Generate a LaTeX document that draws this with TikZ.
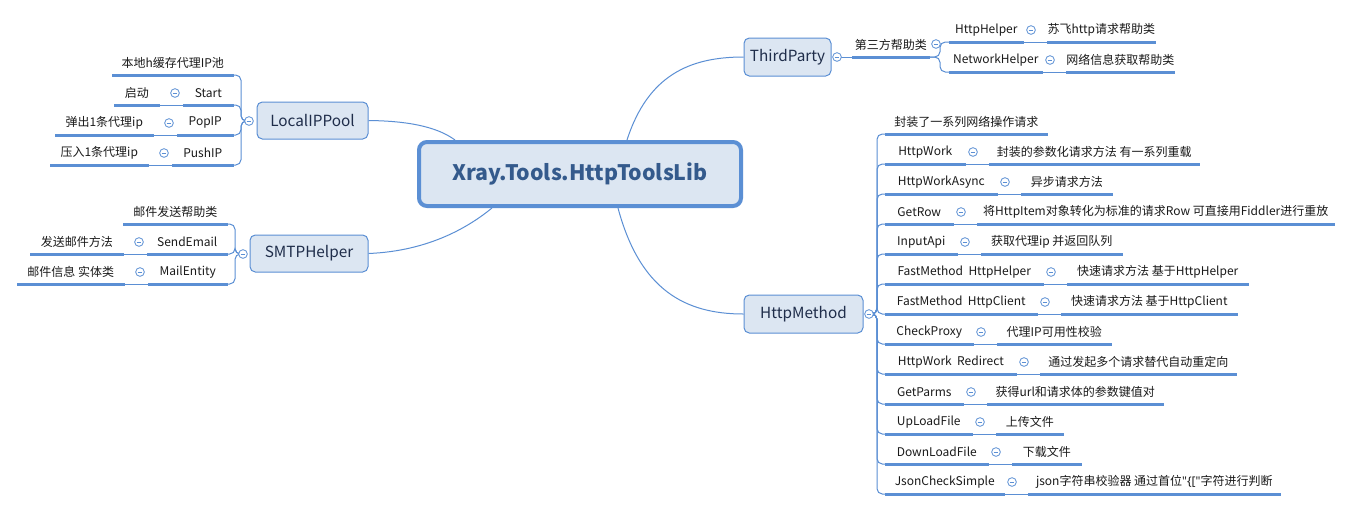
\documentclass[tikz,border=0pt]{standalone}
\usepackage{fontspec}
\setmainfont{Noto Sans CJK SC}
\newfontfamily\latq{Noto Sans}
\usetikzlibrary{backgrounds}
\definecolor{lc}{HTML}{5B8FD4}
\definecolor{nf}{HTML}{DCE6F2}
\definecolor{ct}{HTML}{345A8C}
\definecolor{tt}{HTML}{1F2D4A}
\definecolor{lt}{HTML}{1A1A1A}
\tikzset{
  conn/.style={draw=lc, line width=0.75pt},
  ul/.style={draw=lc, line width=2.25pt},
  leaf/.style={anchor=south west, inner sep=0pt, minimum height=18pt, font=\fontsize{9}{11}\selectfont, text=lt},
  topic/.style={draw=lc, fill=nf, line width=0.75pt, rounded corners=4pt, inner sep=0pt, font=\fontsize{11.5}{13}\selectfont, text=tt},
  colb/.style={circle, draw=lc, fill=white, line width=0.6pt, minimum size=6.5pt, inner sep=0pt,
    path picture={\draw[lc, line width=0.5pt] ([xshift=-1.8pt]path picture bounding box.center) -- ([xshift=1.8pt]path picture bounding box.center);}},
  brk/.style={conn, rounded corners=4pt}
}
\newcommand\myleaf[5]{%
  \node[leaf, minimum width={(#4)*0.75pt}] (#1) at ({#2},{#3}) {#5};
  \draw[ul] (#1.south west) -- (#1.south east);}
\newcommand\rrow[7]{%
  \myleaf{#1k}{#2}{#3}{#4}{#6}
  \node[colb] (#1c) at ({#2+#4+8},{#3-12}) {};
  \myleaf{#1v}{#2+#4+24}{#3}{#5}{#7}
  \begin{pgfonlayer}{background}\draw[conn] (#1k.south east) -- (#1v.south west);\end{pgfonlayer}}
\newcommand\lrow[7]{%
  \myleaf{#1k}{#2-#4}{#3}{#4}{#6}
  \node[colb] (#1c) at ({#2-#4-8},{#3-12}) {};
  \myleaf{#1v}{#2-#4-24-#5}{#3}{#5}{#7}
  \begin{pgfonlayer}{background}\draw[conn] (#1v.south east) -- (#1k.south west);\end{pgfonlayer}}
\begin{document}
\begin{tikzpicture}[x=0.75pt, y=-0.75pt]
\begin{pgfonlayer}{background}
\path[fill=white] (0,0) rectangle (1353,512);
\end{pgfonlayer}
\useasboundingbox (0,0) rectangle (1353,512);

% root
\node[draw=lc, fill=nf, line width=3pt, rounded corners=6pt, minimum width=322*0.75pt, minimum height=64*0.75pt,
  font=\fontsize{16}{18}\selectfont\bfseries, text=ct] (root) at (580,174) {Xray.Tools.HttpToolsLib};

% ---------- LocalIPPool ----------
\node[topic, minimum width=111*0.75pt, minimum height=37*0.75pt] (lip) at (312.5,120.5) {LocalIPPool};
\node[colb] (lipc) at (249,121) {};
\coordinate (lipj) at (241,121);
\myleaf{l0}{112}{75}{121}{本地h缓存代理IP池}
\lrow{l1}{233}{105}{50}{45}{Start}{启动}
\lrow{l2}{233}{135}{56}{98}{PopIP}{弹出1条代理ip}
\lrow{l3}{233}{165}{61}{98}{PushIP}{压入1条代理ip}

% ---------- SMTPHelper ----------
\node[topic, minimum width=118*0.75pt, minimum height=37*0.75pt] (smtp) at (309,253.5) {SMTPHelper};
\node[colb] (smtpc) at (243,254) {};
\coordinate (smtpj) at (235,254);
\myleaf{s0}{123}{224}{104}{邮件发送帮助类}
\lrow{s1}{227}{254}{80}{93}{SendEmail}{发送邮件方法}
\lrow{s2}{227}{284}{79}{107}{MailEntity}{邮件信息 实体类}

% ---------- ThirdParty ----------
\node[topic, minimum width=87*0.75pt, minimum height=38*0.75pt] (tp) at (787.5,57) {ThirdParty};
\node[colb] (tpc) at (837,57) {};
\myleaf{t0}{852}{57}{77}{第三方帮助类}
\node[colb] (t0c) at (936,44) {};
\coordinate (tpj) at (940,57);
\rrow{t1}{949}{42}{74}{108}{HttpHelper}{苏飞http请求帮助类}
\rrow{t2}{949}{72}{93}{108}{NetworkHelper}{网络信息获取帮助类}

% ---------- HttpMethod ----------
\node[topic, minimum width=119*0.75pt, minimum height=38*0.75pt] (hm) at (803.5,314) {HttpMethod};
\node[colb] (hmc) at (869,314) {};
\coordinate (hmj) at (877,314);
\myleaf{h0k}{885}{134}{162}{封装了一系列网络操作请求}
\rrow{h1}{885}{164}{80}{210}{HttpWork}{封装的参数化请求方法 有一系列重载}
\rrow{h2}{885}{194}{112}{91}{HttpWorkAsync}{异步请求方法}
\rrow{h3}{885}{224}{68}{357}{GetRow}{将HttpItem对象转化为标准的请求Row 可直接用Fiddler进行重放}
\rrow{h4}{885}{254}{72}{141}{InputApi}{获取代理ip 并返回队列}
\rrow{h5}{885}{284}{158}{181}{FastMethod~ HttpHelper}{快速请求方法 基于HttpHelper}
\rrow{h6}{885}{314}{152}{176}{FastMethod~ HttpClient}{快速请求方法 基于HttpClient}
\rrow{h7}{885}{344}{88}{114}{CheckProxy}{代理IP可用性校验}
\rrow{h8}{885}{374}{131}{196}{HttpWork~ Redirect}{通过发起多个请求替代自动重定向}
\rrow{h9}{885}{404}{78}{176}{GetParms}{获得url和请求体的参数键值对}
\rrow{h10}{885}{434}{87}{67}{UpLoadFile}{上传文件}
\rrow{h11}{885}{464}{103}{69}{DownLoadFile}{下载文件}
\rrow{h12}{885}{494}{119}{252}{JsonCheckSimple}{json字符串校验器 通过首位{\latq"\{["}字符进行判断}

\begin{pgfonlayer}{background}
% root connectors
\draw[conn] (lip.east) .. controls (415,121) and (440,129) .. ([xshift=38*0.75pt]root.north west);
\draw[conn] (smtp.east) .. controls (430,251) and (470,226) .. ([xshift=75*0.75pt]root.south west);
\draw[conn] ([xshift=210*0.75pt]root.north west) .. controls (648,75) and (690,57) .. (tp.west);
\draw[conn] ([xshift=201*0.75pt]root.south west) .. controls (640,290) and (685,314) .. (hm.west);
% LocalIPPool bracket
\foreach \c in {l0,l1k,l2k,l3k} \draw[brk] (lipc.center) -- (lipj) |- (\c.south east);
% SMTP bracket
\foreach \c in {s0,s1k,s2k} \draw[brk] (smtpc.center) -- (smtpj) |- (\c.south east);
% ThirdParty
\draw[conn] (tpc.center) -- (t0.south west);
\foreach \c in {t1k,t2k} \draw[brk] (t0.south east) -- (tpj) |- (\c.south west);
% HttpMethod bracket
\foreach \c in {h0k,h1k,h2k,h3k,h4k,h5k,h6k,h7k,h8k,h9k,h10k,h11k,h12k} \draw[brk] (hmc.center) -- (hmj) |- (\c.south west);
\end{pgfonlayer}
\end{tikzpicture}
\end{document}
